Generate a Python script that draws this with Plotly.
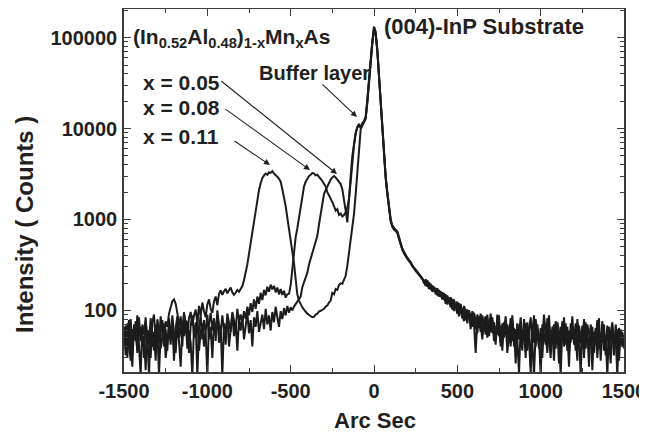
import plotly.graph_objects as go

# ---------------- data ----------------
arc_sec = list(range(-1500, 1501, 10))

# x = 0.11
c_left = [55, 38, 72, 44, 28, 62, 48, 76, 34, 58,
          66, 40, 52, 22, 60, 46, 82, 50, 36, 70,
          56, 44, 86, 62, 40, 76, 66, 92, 112, 126,
          132, 118, 94, 68, 86, 58, 92, 74, 52, 82,
          96, 68, 88, 102, 72, 112, 88, 122, 98, 84,
          116, 132, 104, 94, 126, 142, 114, 152, 166, 148,
          162, 172, 154, 166, 178, 158, 148, 156, 168, 160,
          172]
c_mid = [185, 215, 255, 320, 420, 550, 720, 940, 1250, 1650,
         2100, 2500, 2850, 3050, 3200, 3100, 3300, 3250, 3400, 3200,
         3100, 2950, 2800, 2600, 2150, 1800, 1400, 1050, 800, 620,
         460, 330, 220, 150, 128, 116, 108, 102, 96, 92,
         89, 86, 84, 85, 90, 92, 97, 99, 101, 104,
         110, 113, 122, 128, 155, 150, 172, 168, 190, 198,
         196, 218, 240, 310, 420, 560, 740, 1150, 1900, 3600,
         6800, 9800, 10800, 11800, 12800, 19000, 32000, 58000, 85000, 128000,
         112000, 72000, 36000, 18500, 9500, 4800, 2900, 1950, 1350, 980,
         840, 790, 760, 720, 610, 530, 470, 430, 395, 372,
         350, 335, 305, 292, 275, 262, 248, 236, 222]
c_right = [205, 190, 215, 178, 196, 170, 182, 158, 175, 150,
           162, 138, 155, 128, 146, 120, 140, 112, 132, 104,
           125, 96, 118, 88, 110, 78, 102, 92, 70, 98,
           84, 62, 90, 76, 58, 88, 70, 54, 82, 64,
           92, 56, 74, 48, 80, 60, 44, 72, 58, 86,
           50, 66, 40, 78, 54, 36, 70, 52, 84, 46,
           62, 30, 74, 50, 20, 68, 44, 80, 56, 38,
           64, 48, 90, 52, 34, 70, 46, 62, 28, 76,
           54, 40, 66, 50, 84, 42, 58, 24, 72, 48,
           62, 36, 80, 52, 44, 68, 30, 74, 50, 40,
           64, 22, 58, 46, 78, 38, 56, 44, 70, 32,
           60, 48, 26, 66, 52, 40, 62, 34, 56, 44,
           50]

# x = 0.08
b_left = [44, 68, 30, 58, 80, 36, 64, 46, 88, 40,
          19, 70, 54, 84, 38, 60, 30, 74, 90, 48,
          66, 19, 58, 78, 44, 62, 36, 82, 54, 70,
          28, 64, 86, 50, 72, 40, 96, 58, 76, 34,
          68, 88, 52, 74, 19, 62, 90, 48, 78, 56,
          19, 72, 94, 60, 82, 46, 100, 70, 56, 88,
          64, 42, 92, 74, 58, 96, 80, 62, 104, 76,
          90]
b_mid = [72, 98, 80, 110, 88, 120, 96, 132, 104, 142,
         118, 156, 130, 168, 146, 182, 160, 192, 170, 186,
         158, 178, 150, 172, 148, 164, 138, 150, 152, 190,
         300, 480, 640, 800, 1050, 1400, 1900, 2300, 2600, 2800,
         3000, 3100, 3250, 3200, 3050, 3100, 2900, 2800, 2650, 2500,
         2300, 2000, 1850, 1700, 1550, 1400, 1250, 1300, 1120, 1160,
         1080, 1120, 1200, 1350, 1700, 2600, 4200, 6500, 8800, 10400,
         11200, 10300, 11000, 12200, 13000, 20000, 34000, 62000, 92000, 132000,
         116000, 74000, 37000, 19000, 9800, 5000, 3000, 2000, 1380, 1000,
         860, 800, 770, 740, 630, 540, 480, 440, 400, 380,
         358, 340, 312, 296, 282, 266, 252, 240, 226]
b_right = [198, 220, 182, 204, 168, 188, 162, 176, 146, 168,
           140, 158, 130, 150, 116, 138, 124, 102, 128, 110,
           92, 120, 100, 82, 112, 94, 72, 100, 84, 66,
           94, 78, 56, 86, 70, 48, 80, 62, 90, 52,
           70, 84, 46, 66, 54, 88, 40, 64, 50, 76,
           34, 60, 82, 46, 64, 26, 72, 48, 58, 36,
           80, 54, 42, 66, 24, 58, 88, 40, 62, 50,
           19, 70, 56, 42, 82, 48, 30, 66, 52, 38,
           74, 58, 19, 62, 46, 72, 36, 60, 44, 86,
           42, 56, 28, 68, 50, 38, 80, 46, 60, 24,
           70, 52, 40, 64, 30, 58, 44, 76, 36, 54,
           19, 66, 48, 58, 32, 70, 44, 28, 62, 40,
           54]

# x = 0.05
a_left = [66, 32, 54, 78, 42, 24, 70, 58, 36, 84,
          46, 62, 30, 74, 52, 19, 66, 40, 58, 28,
          80, 62, 38, 54, 72, 30, 48, 64, 42, 88,
          56, 34, 70, 46, 24, 62, 52, 78, 38, 60,
          44, 19, 66, 50, 84, 36, 58, 72, 40, 62,
          90, 48, 66, 30, 76, 54, 88, 44, 68, 19,
          72, 56, 84, 40, 64, 92, 52, 74, 36, 80,
          60]
a_mid = [86, 48, 72, 94, 56, 78, 40, 84, 66, 98,
         58, 76, 90, 62, 104, 70, 88, 60, 96, 74,
         110, 84, 66, 98, 80, 106, 88, 112, 94, 108,
         100, 110, 118, 122, 132, 142, 180, 205, 235, 260,
         320, 370, 440, 500, 560, 660, 880, 1150, 1600, 1900,
         2100, 2300, 2550, 2750, 2900, 3000, 2900, 2750, 2600, 2450,
         2150, 1700, 1250, 930, 1500, 3000, 5000, 7200, 9000, 10200,
         11000, 10100, 11500, 12000, 13500, 21000, 36000, 60000, 90000, 120000,
         108000, 70000, 35000, 17500, 9200, 4700, 2850, 1900, 1320, 960,
         830, 770, 750, 710, 620, 520, 465, 425, 392, 368,
         352, 330, 302, 288, 272, 258, 244, 232, 218]
a_right = [210, 186, 200, 172, 190, 160, 178, 150, 166, 142,
           156, 132, 148, 118, 140, 126, 108, 134, 98, 120,
           106, 86, 114, 90, 76, 104, 82, 96, 62, 88,
           72, 34, 80, 64, 92, 54, 74, 86, 50, 68,
           58, 78, 62, 42, 90, 52, 68, 36, 74, 56,
           70, 44, 58, 88, 40, 62, 48, 20, 66, 54,
           46, 72, 36, 60, 84, 44, 19, 58, 70, 48,
           56, 30, 74, 62, 46, 88, 38, 56, 70, 44,
           62, 26, 50, 76, 40, 58, 66, 34, 54, 64,
           48, 72, 40, 58, 19, 64, 52, 38, 70, 56,
           44, 66, 34, 60, 48, 82, 28, 62, 50, 40,
           68, 36, 56, 74, 42, 50, 19, 64, 48, 58,
           38]

series_names = ["x = 0.05", "x = 0.08", "x = 0.11"]
series_values = [a_left + a_mid + a_right,
                 b_left + b_mid + b_right,
                 c_left + c_mid + c_right]
for v in series_values:
    assert len(v) == len(arc_sec), len(v)

x_ticks = [-1500, -1000, -500, 0, 500, 1000, 1500]
x_tick_text = ["-1500", "-1000", "-500", "0", "500", "1000", "1500"]
x_minor = [-1250, -750, -250, 250, 750, 1250]
y_ticks = [100, 1000, 10000, 100000]
y_tick_text = ["100", "1000", "10000", "100000"]
y_minor = [m * 10 ** e for e in range(1, 6) for m in range(2, 10)]

# ---------------- figure ----------------
# The page body has an 8px margin, so the figure is drawn 8px smaller and
# all positions below are given in page pixels of the 647x432 window.
OFF = 8
W, H = 647 - OFF, 432 - OFF
P_LEFT, P_RIGHT, P_TOP, P_BOTTOM = 124, 624, 9, 372   # plot box in page px
L = P_LEFT - OFF
R = W - (P_RIGHT - OFF)
T = P_TOP - OFF
B = H - (P_BOTTOM - OFF)
PW, PH = P_RIGHT - P_LEFT, P_BOTTOM - P_TOP

def px(xp):
    return (xp - P_LEFT) / PW

def py(yp):
    return (P_BOTTOM - yp) / PH

ink = "#231f20"
axc = "#3c3c3c"
fam = "Liberation Sans, Arial, Helvetica, sans-serif"

fig = go.Figure()
for name, vals in zip(series_names, series_values):
    fig.add_trace(go.Scatter(x=arc_sec, y=vals, mode="lines", name=name,
                             line=dict(color="#1c1c1c", width=2),
                             showlegend=False))

axis_common = dict(showgrid=False, zeroline=False, showline=True, linecolor=axc,
                   linewidth=1.5, mirror="ticks", ticks="inside", tickcolor=axc,
                   tickwidth=1.2, ticklen=7, automargin=False,
                   tickfont=dict(family=fam, size=20, color=ink, weight="bold"))

fig.update_xaxes(range=[-1500, 1500], tickmode="array", tickvals=x_ticks,
                 ticktext=x_tick_text, ticklabelstandoff=0,
                 minor=dict(tickmode="array", tickvals=x_minor, ticks="inside",
                            ticklen=4, tickcolor=axc, tickwidth=1.2),
                 **axis_common)
fig.update_yaxes(type="log", range=[1.322, 5.315], tickmode="array",
                 tickvals=y_ticks, ticktext=y_tick_text, ticklabelstandoff=1,
                 minor=dict(tickmode="array", tickvals=y_minor, ticks="inside",
                            ticklen=4, tickcolor=axc, tickwidth=1),
                 **axis_common)

bold = dict(family=fam, color=ink, weight="bold")
ann = []
# axis titles
ann.append(dict(text="Arc Sec", x=px(375), y=py(421), xref="paper", yref="paper",
                showarrow=False, font=dict(size=22, **bold),
                xanchor="center", yanchor="middle"))
ann.append(dict(text="Intensity ( Counts )", x=px(24), y=py(225), xref="paper",
                yref="paper", showarrow=False, textangle=-90,
                font=dict(size=24, **bold), xanchor="center", yanchor="middle"))
# labels
ann.append(dict(text="(In<sub>0.52</sub>Al<sub>0.48</sub>)<sub>1-x</sub>Mn<sub>x</sub>As",
                x=px(131), y=py(38), xref="paper", yref="paper", showarrow=False,
                font=dict(size=21, **bold), xanchor="left", yanchor="middle"))
ann.append(dict(text="(004)-InP Substrate", x=px(382), y=py(26), xref="paper",
                yref="paper", showarrow=False, font=dict(size=22, **bold),
                xanchor="left", yanchor="middle"))
ann.append(dict(text="Buffer layer", x=px(257), y=py(73), xref="paper",
                yref="paper", showarrow=False, font=dict(size=20, **bold),
                xanchor="left", yanchor="middle"))
for txt, yy in zip(series_names, [82, 108, 136]):
    ann.append(dict(text=txt, x=px(141), y=py(yy), xref="paper", yref="paper",
                    showarrow=False, font=dict(size=21, **bold),
                    xanchor="left", yanchor="middle"))
# arrows: (tail_px, tail_py, head_px, head_py) in page pixels
arrows = [(220, 80, 337, 174), (224, 108, 310, 170), (233, 140, 270, 165),
          (321, 83, 357, 117)]
for tx, ty, hx, hy in arrows:
    ann.append(dict(text="", x=px(hx), y=py(hy), xref="paper", yref="paper",
                    ax=tx - hx, ay=ty - hy, axref="pixel", ayref="pixel",
                    showarrow=True, arrowhead=2, arrowsize=1.1, arrowwidth=1.1,
                    arrowcolor=ink))

fig.update_layout(width=W, height=H, margin=dict(l=L, r=R, t=T, b=B),
                  plot_bgcolor="white", paper_bgcolor="white",
                  annotations=ann, font=dict(family=fam, color=ink))

fig.write_html("out.html")
